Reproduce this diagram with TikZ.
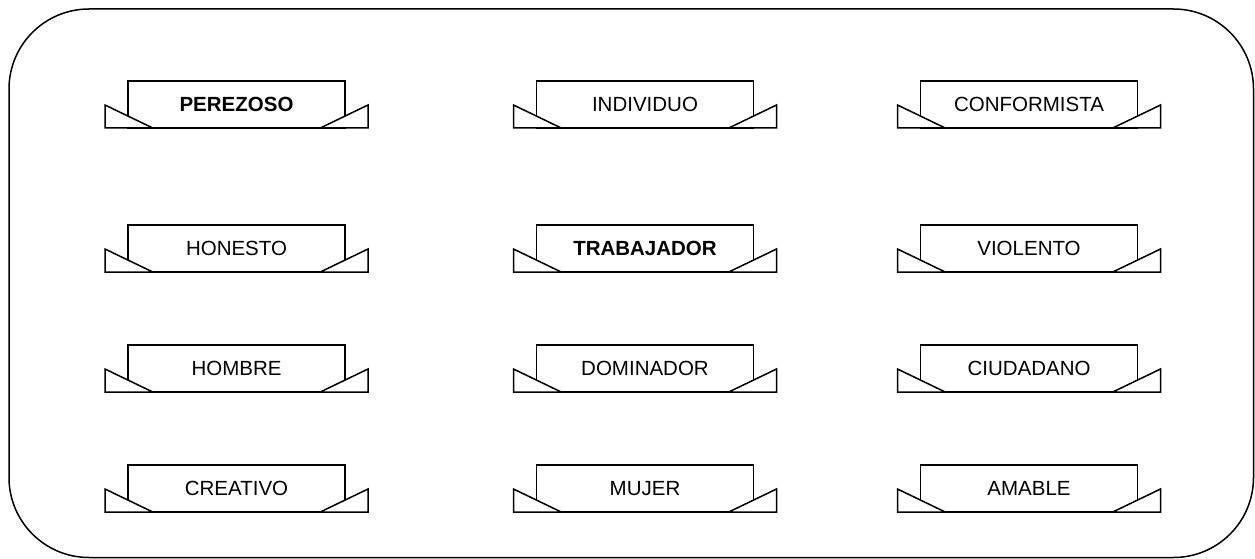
\documentclass[tikz,border=0pt]{standalone}
\usepackage{fontspec}
\setmainfont{Liberation Sans}
\usetikzlibrary{calc}
\begin{document}
\begin{tikzpicture}[x=1pt,y=-1pt,
  banner/.style={draw, line width=1.5pt, fill=white, inner sep=0pt, outer sep=0pt,
    minimum width=217pt, minimum height=47pt,
    font=\fontsize{20.5}{24}\selectfont},
  bold/.style={font=\fontsize{20.5}{24}\selectfont\bfseries},
  tri/.style={draw, line width=1.5pt, fill=white, line join=miter},
  frame/.style={draw, line width=1.5pt, rounded corners=80pt, inner sep=0pt}]
\useasboundingbox (0,0) rectangle (1255,559);
\node[frame, minimum width=1244.5pt, minimum height=548.5pt] (outer) at (631.25,283.25) {};
% row 1
\node[banner, bold] (perezoso) at (236.5,104.5) {PEREZOSO};
\node[banner] (individuo) at (645,104.5) {INDIVIDUO};
\node[banner] (conformista) at (1029,104.5) {CONFORMISTA};
% row 2
\node[banner] (honesto) at (236.5,248.5) {HONESTO};
\node[banner, bold] (trabajador) at (645,248.5) {TRABAJADOR};
\node[banner] (violento) at (1029,248.5) {VIOLENTO};
% row 3
\node[banner] (hombre) at (236.5,368.5) {HOMBRE};
\node[banner] (dominador) at (645,368.5) {DOMINADOR};
\node[banner] (ciudadano) at (1029,368.5) {CIUDADANO};
% row 4
\node[banner] (creativo) at (236.5,488.5) {CREATIVO};
\node[banner] (mujer) at (645,488.5) {MUJER};
\node[banner] (amable) at (1029,488.5) {AMABLE};
\foreach \n in {perezoso,individuo,conformista,honesto,trabajador,violento,
                hombre,dominador,ciudadano,creativo,mujer,amable}{
  \draw[tri] ($(\n.south west)+(-23,0)$) -- ($(\n.south west)+(-23,-23)$)
     -- ($(\n.south west)+(24.7,0)$) -- cycle;
  \draw[tri] ($(\n.south east)+(23,0)$) -- ($(\n.south east)+(23,-23)$)
     -- ($(\n.south east)+(-24.7,0)$) -- cycle;
}
\end{tikzpicture}
\end{document}
